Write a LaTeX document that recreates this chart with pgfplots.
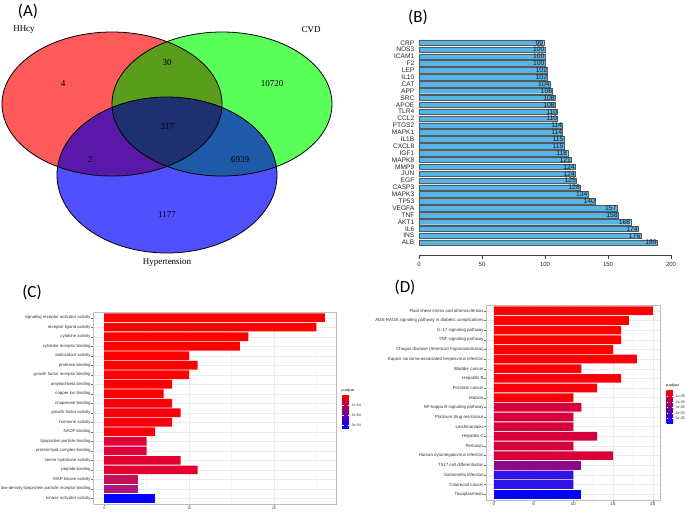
\documentclass[border=0pt]{standalone}
\usepackage{fontspec}
\setmainfont{Liberation Sans}
\newfontfamily\vennfont{Liberation Serif}
\newfontfamily\panelfont{Carlito}
\usepackage{pgfplots}
\pgfplotsset{compat=1.18}
\definecolor{vred}{HTML}{FF5A5A}
\definecolor{vgreen}{HTML}{5AFF5A}
\definecolor{vblue}{HTML}{5050FF}
\definecolor{vrg}{HTML}{5A9C1C}
\definecolor{vrb}{HTML}{5A18A8}
\definecolor{vgb}{HTML}{1E5AA8}
\definecolor{vrgb}{HTML}{1E3070}
\definecolor{bblue}{HTML}{56B4E6}
\definecolor{c1}{HTML}{FF0000}
\definecolor{c2}{HTML}{F8000E}
\definecolor{c3}{HTML}{E0003A}
\definecolor{c4}{HTML}{E40030}
\definecolor{c5}{HTML}{C4105A}
\definecolor{c6}{HTML}{B0157A}
\definecolor{c7}{HTML}{0000FF}
\definecolor{d2}{HTML}{FA0008}
\definecolor{d3}{HTML}{D6003C}
\definecolor{d4}{HTML}{8A0A8A}
\definecolor{d5}{HTML}{2E12E6}
\definecolor{gridc}{HTML}{EBEBEB}
\definecolor{gridm}{HTML}{F5F5F5}
\definecolor{borderc}{HTML}{BDBDBD}
\newcommand\fC{\fontsize{4.3}{5}\selectfont}
\newcommand\fD{\fontsize{4.4}{5.1}\selectfont}
\newcommand\fL{\fontsize{3.6}{4.3}\selectfont}
\pgfplotsset{
  gg/.style={
    scale only axis, anchor=north west, y dir=reverse,
    ymin=0.4, ymax=20.6, ytick={1,...,20},
    grid=both, major grid style={gridc, line width=0.4pt}, minor grid style={gridm, line width=0.3pt},
    axis line style={borderc, line width=0.6pt},
    tick pos=left, tick align=outside, major tick length=1.6pt, minor tick length=0pt,
    tick style={black!55, line width=0.3pt},
    tick label style={text=black!80},
    yticklabel style={inner sep=0.6pt},
    xticklabel style={inner sep=1pt},
    /pgf/number format/assume math mode=true,
  }
}
\begin{document}
\begin{tikzpicture}
\useasboundingbox (0pt,0pt) rectangle (685pt,-515pt);
% ---------------- (A) Venn
\begin{axis}[at={(0pt,0pt)}, anchor=north west, scale only axis, width=340pt, height=280pt,
  xmin=0, xmax=340, ymin=-280, ymax=0, hide axis, clip=false]
\fill[vred] (axis cs:112,-104) ellipse [x radius=110pt, y radius=72pt];
\fill[vgreen] (axis cs:222,-104) ellipse [x radius=110pt, y radius=72pt];
\fill[vblue] (axis cs:167,-175) ellipse [x radius=110pt, y radius=78pt];
\begin{scope}
\clip (axis cs:112,-104) ellipse [x radius=110pt, y radius=72pt];
\fill[vrg] (axis cs:222,-104) ellipse [x radius=110pt, y radius=72pt];
\fill[vrb] (axis cs:167,-175) ellipse [x radius=110pt, y radius=78pt];
\end{scope}
\begin{scope}
\clip (axis cs:222,-104) ellipse [x radius=110pt, y radius=72pt];
\fill[vgb] (axis cs:167,-175) ellipse [x radius=110pt, y radius=78pt];
\end{scope}
\begin{scope}
\clip (axis cs:112,-104) ellipse [x radius=110pt, y radius=72pt];
\clip (axis cs:222,-104) ellipse [x radius=110pt, y radius=72pt];
\fill[vrgb] (axis cs:167,-175) ellipse [x radius=110pt, y radius=78pt];
\end{scope}
\draw[black, line width=0.8pt] (axis cs:112,-104) ellipse [x radius=110pt, y radius=72pt];
\draw[black, line width=0.8pt] (axis cs:222,-104) ellipse [x radius=110pt, y radius=72pt];
\draw[black, line width=0.8pt] (axis cs:167,-175) ellipse [x radius=110pt, y radius=78pt];
\begin{scope}[every node/.style={font=\vennfont\fontsize{9}{10}\selectfont, text=black}]
\node at (axis cs:63,-84) {4};
\node at (axis cs:167,-63) {30};
\node at (axis cs:272,-84) {10720};
\node at (axis cs:167,-127) {317};
\node at (axis cs:90,-160) {2};
\node at (axis cs:240,-160) {6939};
\node at (axis cs:167,-215) {1177};
\node at (axis cs:24,-30) {HHcy};
\node at (axis cs:311,-30) {CVD};
\node at (axis cs:167,-262) {Hypertension};
\end{scope}
\end{axis}
% ---------------- (B) degree bars
\begin{axis}[at={(419pt,-39.3pt)}, anchor=north west, scale only axis, width=252pt, height=215.7pt,
  xmin=0, xmax=200, ymin=-0.8, ymax=30.5,
  axis x line*=bottom, axis y line*=left,
  x axis line style={-, black!75, line width=0.5pt},
  y axis line style={draw=none},
  xtick={0,50,100,150,200}, tick align=outside, major tick length=3.5pt,
  xtick style={black!75, line width=0.5pt}, ytick style={draw=none},
  ytick={1,...,30},
  yticklabels={ALB,INS,IL6,AKT1,TNF,VEGFA,TP53,MAPK3,CASP3,EGF,JUN,MMP9,MAPK8,IGF1,CXCL8,IL1B,MAPK1,PTGS2,CCL2,TLR4,APOE,SRC,APP,CAT,IL10,LEP,F2,ICAM1,NOS3,CRP},
  yticklabel style={font=\fontsize{6.6}{7}\selectfont, inner sep=1pt, text=black!85},
  xticklabel style={font=\fontsize{6}{7}\selectfont, text=black!85},
  /pgf/number format/assume math mode=true, clip=false]
\addplot[xbar, bar width=0.8, bar shift=0pt, fill=bblue, draw=black!65, line width=0.35pt,
  point meta=x, nodes near coords,
  every node near coord/.append style={anchor=east, font=\fontsize{6.8}{7}\selectfont, inner sep=0.3pt, text=black!90}]
coordinates {(189,1) (176,2) (174,3) (168,4) (158,5) (157,6) (140,7) (134,8) (128,9) (125,10)
 (124,11) (124,12) (121,13) (118,14) (115,15) (115,16) (114,17) (114,18) (110,19) (110,20)
 (108,21) (108,22) (106,23) (104,24) (102,25) (102,26) (100,27) (100,28) (100,29) (99,30)};
\end{axis}
% ---------------- (C) GO bars
\begin{axis}[gg, at={(93pt,-312pt)}, width=243pt, height=192pt,
  xmin=-1.3, xmax=27.3, xtick={0,10,20}, minor xtick={5,15,25},
  tick label style={font=\fC}, xticklabel style={font=\fL},
  yticklabels={signaling receptor activator activity, receptor ligand activity, cytokine activity, cytokine receptor binding, antioxidant activity, protease binding, growth factor receptor binding, amyloid-beta binding, copper ion binding, chaperone binding, growth factor activity, hormone activity, NADP binding, lipoprotein particle binding, protein-lipid complex binding, serine hydrolase activity, peptide binding, MAP kinase activity, low-density lipoprotein particle receptor binding, kinase activator activity}]
\addplot[xbar, bar width=0.9, bar shift=0pt, fill=c1, draw=none] coordinates {(26,1) (25,2) (17,3) (16,4) (10,5) (11,6) (10,7) (8,8) (7,9)};
\addplot[xbar, bar width=0.9, bar shift=0pt, fill=c2, draw=none] coordinates {(8,10) (9,11) (8,12) (6,13)};
\addplot[xbar, bar width=0.9, bar shift=0pt, fill=c3, draw=none] coordinates {(5,14) (5,15)};
\addplot[xbar, bar width=0.9, bar shift=0pt, fill=c4, draw=none] coordinates {(9,16) (11,17)};
\addplot[xbar, bar width=0.9, bar shift=0pt, fill=c5, draw=none] coordinates {(4,18)};
\addplot[xbar, bar width=0.9, bar shift=0pt, fill=c6, draw=none] coordinates {(4,19)};
\addplot[xbar, bar width=0.9, bar shift=0pt, fill=c7, draw=none] coordinates {(6,20)};
\end{axis}
% ---------------- (D) KEGG bars
\begin{axis}[gg, at={(486pt,-305pt)}, width=174.7pt, height=195pt,
  xmin=-1, xmax=21, xtick={0,5,10,15,20}, minor xtick={2.5,7.5,12.5,17.5},
  tick label style={font=\fD},
  yticklabels={Fluid shear stress and atherosclerosis, AGE-RAGE signaling pathway in diabetic complications, IL-17 signaling pathway, TNF signaling pathway, Chagas disease (American trypanosomiasis), Kaposi sarcoma-associated herpesvirus infection, Bladder cancer, Hepatitis B, Prostate cancer, Malaria, NF-kappa B signaling pathway, Platinum drug resistance, Leishmaniasis, Hepatitis C, Pertussis, Human cytomegalovirus infection, Th17 cell differentiation, Salmonella infection, Colorectal cancer, Toxoplasmosis}]
\addplot[xbar, bar width=0.9, bar shift=0pt, fill=c1, draw=none] coordinates {(20,1) (17,2) (16,3) (16,4) (15,5)};
\addplot[xbar, bar width=0.9, bar shift=0pt, fill=d2, draw=none] coordinates {(18,6) (11,7) (16,8) (13,9) (10,10)};
\addplot[xbar, bar width=0.9, bar shift=0pt, fill=d3, draw=none] coordinates {(11,11) (10,12) (10,13) (13,14) (10,15) (15,16)};
\addplot[xbar, bar width=0.9, bar shift=0pt, fill=d4, draw=none] coordinates {(11,17)};
\addplot[xbar, bar width=0.9, bar shift=0pt, fill=d5, draw=none] coordinates {(10,18) (10,19)};
\addplot[xbar, bar width=0.9, bar shift=0pt, fill=c7, draw=none] coordinates {(11,20)};
\end{axis}
% ---------------- legends (colour bars)
\shade[top color=red, bottom color=blue] (342pt,-395pt) rectangle (349pt,-428pt);
\node[anchor=west, font=\fL, inner sep=0pt] at (341.5pt,-391pt) {p.adjust};
\foreach \yy/\tt in {405/1e-04, 415/2e-04, 425/3e-04}{
  \draw[white, line width=0.3pt] (342pt,-\yy pt) -- (343.5pt,-\yy pt) (347.5pt,-\yy pt) -- (349pt,-\yy pt);
  \node[anchor=west, font=\fL, inner sep=0pt, text=black!80] at (351.5pt,-\yy pt) {\tt};
}
\shade[top color=red, bottom color=blue] (666.5pt,-390pt) rectangle (673pt,-423pt);
\node[anchor=west, font=\fL, inner sep=0pt] at (666pt,-386pt) {p.adjust};
\foreach \yy/\tt in {396.5/1e-05, 402/2e-05, 407.5/3e-05, 413/4e-05, 418.5/5e-05}{
  \draw[white, line width=0.3pt] (666.5pt,-\yy pt) -- (668pt,-\yy pt) (671.5pt,-\yy pt) -- (673pt,-\yy pt);
  \node[anchor=west, font=\fL, inner sep=0pt, text=black!80] at (675.5pt,-\yy pt) {\tt};
}
% ---------------- panel letters
\node[font=\panelfont\fontsize{17}{20}\selectfont] at (28pt,-11pt) {(A)};
\node[font=\panelfont\fontsize{17}{20}\selectfont] at (418pt,-17pt) {(B)};
\node[font=\panelfont\fontsize{17}{20}\selectfont] at (32pt,-292pt) {(C)};
\node[font=\panelfont\fontsize{17}{20}\selectfont] at (405pt,-287pt) {(D)};
\end{tikzpicture}
\end{document}
